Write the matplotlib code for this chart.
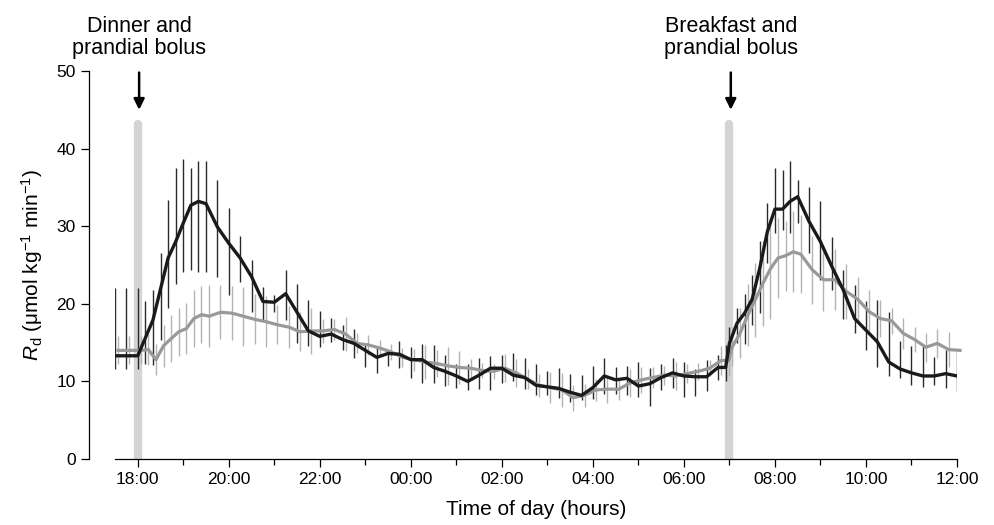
import matplotlib
matplotlib.use('Agg')
import matplotlib.pyplot as plt
from matplotlib.ticker import FixedLocator

plt.rcParams['font.family'] = ['Liberation Sans', 'DejaVu Sans']
plt.rcParams['mathtext.fontset'] = 'custom'
plt.rcParams['mathtext.rm'] = 'Liberation Sans'
plt.rcParams['mathtext.it'] = 'Liberation Sans:italic'

# sampling times (10-min steps for 90 min after each meal, 15-min otherwise)
times = ['17:30', '17:45', '18:00', '18:10', '18:20', '18:30', '18:40', '18:50',
         '19:00', '19:10', '19:20', '19:30', '19:45', '20:00', '20:15', '20:30',
         '20:45', '21:00', '21:15', '21:30', '21:45', '22:00', '22:15', '22:30',
         '22:45', '23:00', '23:15', '23:30', '23:45', '00:00', '00:15', '00:30',
         '00:45', '01:00', '01:15', '01:30', '01:45', '02:00', '02:15', '02:30',
         '02:45', '03:00', '03:15', '03:30', '03:45', '04:00', '04:15', '04:30',
         '04:45', '05:00', '05:15', '05:30', '05:45', '06:00', '06:15', '06:30',
         '06:45', '06:55', '07:00', '07:10', '07:20', '07:30', '07:40', '07:50',
         '08:00', '08:10', '08:20', '08:30', '08:45', '09:00', '09:15', '09:30',
         '09:45', '10:00', '10:15', '10:30', '10:45', '11:00', '11:15', '11:30',
         '11:45', '12:00']

black_mean = [13.3, 13.3, 13.3, 15.6, 17.9, 21.9, 25.9, 28.0,
              30.4, 32.7, 33.2, 32.9, 29.9, 27.8, 25.9, 23.5,
              20.3, 20.2, 21.3, 18.9, 16.5, 15.8, 16.1, 15.4,
              14.9, 14.0, 13.1, 13.6, 13.5, 12.8, 12.8, 11.8,
              11.3, 10.7, 10.0, 10.8, 11.7, 11.7, 10.8, 10.5,
              9.5, 9.3, 9.1, 8.6, 8.2, 9.2, 10.7, 10.2,
              10.4, 9.4, 9.7, 10.5, 11.1, 10.7, 10.6, 10.6,
              11.8, 11.8, 14.9, 17.5, 18.8, 20.6, 24.6, 29.3,
              32.2, 32.2, 33.2, 33.8, 30.6, 28.0, 24.8, 21.8,
              18.1, 16.6, 15.1, 12.5, 11.6, 11.1, 10.7, 10.7,
              11.0, 10.7]
# ends of the black error bars
black_hi = [22.1, 22.1, 22.1, 20.3, 21.8, 26.6, 33.4, 37.5,
            38.7, 37.5, 38.4, 38.4, 36.0, 32.3, 28.8, 25.6,
            22.2, 21.1, 24.4, 22.6, 20.5, 19.1, 18.2, 17.3,
            16.8, 14.9, 14.4, 14.1, 15.2, 14.4, 14.8, 14.7,
            13.4, 12.3, 12.3, 13.0, 13.3, 13.4, 13.7, 13.0,
            12.3, 11.3, 11.7, 11.0, 10.8, 12.0, 13.0, 11.8,
            12.0, 12.5, 11.7, 12.3, 13.0, 12.5, 11.6, 12.7,
            13.4, 14.7, 17.0, 19.4, 21.3, 23.7, 28.1, 33.0,
            37.5, 37.2, 38.4, 35.9, 35.0, 33.3, 28.6, 24.4,
            22.4, 20.3, 20.5, 19.0, 15.2, 14.5, 14.5, 13.2,
            14.1, 14.1]
black_lo = [11.6, 11.6, 11.6, 12.3, 12.1, 15.3, 19.4, 22.6,
            24.1, 24.4, 24.1, 24.1, 23.5, 21.1, 22.8, 19.0,
            17.9, 19.0, 17.9, 15.0, 14.5, 14.4, 15.1, 14.1,
            13.0, 11.8, 11.1, 12.0, 11.7, 10.5, 9.8, 9.8,
            9.4, 9.1, 8.9, 9.0, 8.9, 9.8, 10.0, 9.0,
            8.2, 8.2, 7.8, 7.4, 7.6, 7.7, 8.4, 8.4,
            8.2, 8.0, 6.8, 8.9, 9.2, 8.0, 8.1, 8.8,
            10.2, 10.0, 12.8, 14.9, 14.8, 17.3, 18.8, 25.2,
            29.1, 29.5, 29.1, 30.4, 26.5, 23.1, 21.8, 18.0,
            16.3, 14.0, 11.9, 10.7, 10.5, 9.5, 9.3, 9.5,
            9.1, 8.7]

gray_mean = [14.0, 14.0, 14.0, 14.1, 12.8, 14.6, 15.5, 16.4,
             16.8, 18.1, 18.6, 18.4, 18.9, 18.8, 18.4, 18.0,
             17.7, 17.3, 17.0, 16.4, 16.5, 16.5, 16.7, 16.1,
             14.9, 14.7, 14.3, 13.8, 13.1, 12.8, 12.5, 12.3,
             12.0, 11.8, 11.7, 11.4, 11.3, 11.7, 11.1, 10.3,
             9.5, 9.2, 8.9, 7.9, 8.2, 8.9, 9.0, 9.0,
             9.8, 10.2, 10.5, 10.8, 10.7, 11.0, 11.3, 11.7,
             12.7, 12.7, 14.5, 16.2, 18.5, 20.5, 22.6, 24.5,
             25.9, 26.2, 26.7, 26.4, 24.4, 23.1, 23.1, 21.6,
             20.6, 19.0, 18.1, 17.8, 16.2, 15.4, 14.4, 14.9,
             14.1, 14.0]
gray_sd = [1.8, 1.8, 1.8, 2.0, 2.0, 2.7, 3.0, 3.1,
           3.3, 3.7, 3.7, 4.0, 3.5, 3.5, 3.8, 3.2,
           3.3, 2.5, 2.7, 2.5, 3.0, 1.6, 1.4, 2.2,
           1.3, 1.3, 1.0, 1.0, 1.2, 1.4, 2.2, 1.7,
           2.4, 2.1, 1.2, 1.0, 1.0, 1.8, 1.8, 1.3,
           1.5, 2.0, 2.2, 1.7, 1.5, 1.4, 1.8, 1.4,
           1.8, 1.7, 1.4, 1.2, 1.8, 1.2, 1.1, 1.0,
           1.9, 2.0, 2.5, 3.2, 4.0, 4.8, 5.5, 6.4,
           5.1, 4.5, 5.2, 5.0, 4.4, 4.0, 3.9, 3.5,
           2.8, 2.8, 2.4, 1.7, 2.0, 1.6, 1.9, 1.9,
           2.3, 1.5]

meal_times = ['18:00', '07:00']
meal_labels = ['Dinner and\nprandial bolus', 'Breakfast and\nprandial bolus']
tick_labels = ['18:00', '20:00', '22:00', '00:00', '02:00', '04:00',
               '06:00', '08:00', '10:00', '12:00']


def to_hours(s):
    h, m = s.split(':')
    v = int(h) + int(m) / 60
    if v < 17:
        v += 24
    return v


t = [to_hours(s) for s in times]
t_gray = [x + 4 / 60 for x in t]   # grey series drawn slightly offset
black_err = [[m - lo for m, lo in zip(black_mean, black_lo)],
             [hi - m for m, hi in zip(black_mean, black_hi)]]

fig = plt.figure(figsize=(9.94, 5.25), dpi=100)
ax = fig.add_axes([115 / 994, 66 / 525, 842 / 994, 388 / 525])

for mt in meal_times:
    h = to_hours(mt)
    ax.plot([h, h], [-1, 43.2], color='#d4d4d4', lw=6.0,
            solid_capstyle='round', zorder=1)

ax.errorbar(t_gray, gray_mean, yerr=gray_sd, fmt='none', ecolor='#b3b3b3',
            elinewidth=1.0, capsize=0, zorder=2)
ax.errorbar(t, black_mean, yerr=black_err, fmt='none', ecolor='#2a2a2a',
            elinewidth=1.0, capsize=0, zorder=3)
ax.plot(t_gray, gray_mean, color='#999999', lw=2.3, zorder=4, clip_on=False)
ax.plot(t, black_mean, color='#1a1a1a', lw=2.4, zorder=5)

for mt, lab in zip(meal_times, meal_labels):
    h = to_hours(mt) + 0.03
    ax.annotate('', xy=(h, 45.0), xytext=(h, 49.8), annotation_clip=False,
                arrowprops=dict(arrowstyle='-|>', color='black', lw=1.8,
                                mutation_scale=16, shrinkA=0, shrinkB=0))
    ax.text(h, 51.6, lab, ha='center', va='bottom', fontsize=15.5,
            linespacing=1.05, clip_on=False)

ax.set_xlim(17.5, 36.0)
ax.set_ylim(0, 50)
ax.xaxis.set_major_locator(FixedLocator(range(18, 37, 2)))
ax.xaxis.set_minor_locator(FixedLocator(range(19, 36, 2)))
ax.set_xticklabels(tick_labels)
ax.set_yticks([0, 10, 20, 30, 40, 50])

ax.spines['top'].set_visible(False)
ax.spines['right'].set_visible(False)
ax.spines['left'].set_position(('outward', 18.7))
for s in ['left', 'bottom']:
    ax.spines[s].set_linewidth(0.9)
ax.tick_params(axis='both', which='major', length=5.5, width=0.9,
               labelsize=12.5, pad=4)
ax.tick_params(axis='x', which='minor', length=4.5, width=0.9)

ax.set_xlabel('Time of day (hours)', fontsize=15, labelpad=9)
ax.set_ylabel(r'$R_{\mathrm{d}}$ ($\mathrm{\mu}$mol kg$^{-1}$ min$^{-1}$)',
              fontsize=15, labelpad=8)

fig.savefig('out.png', dpi=100)
